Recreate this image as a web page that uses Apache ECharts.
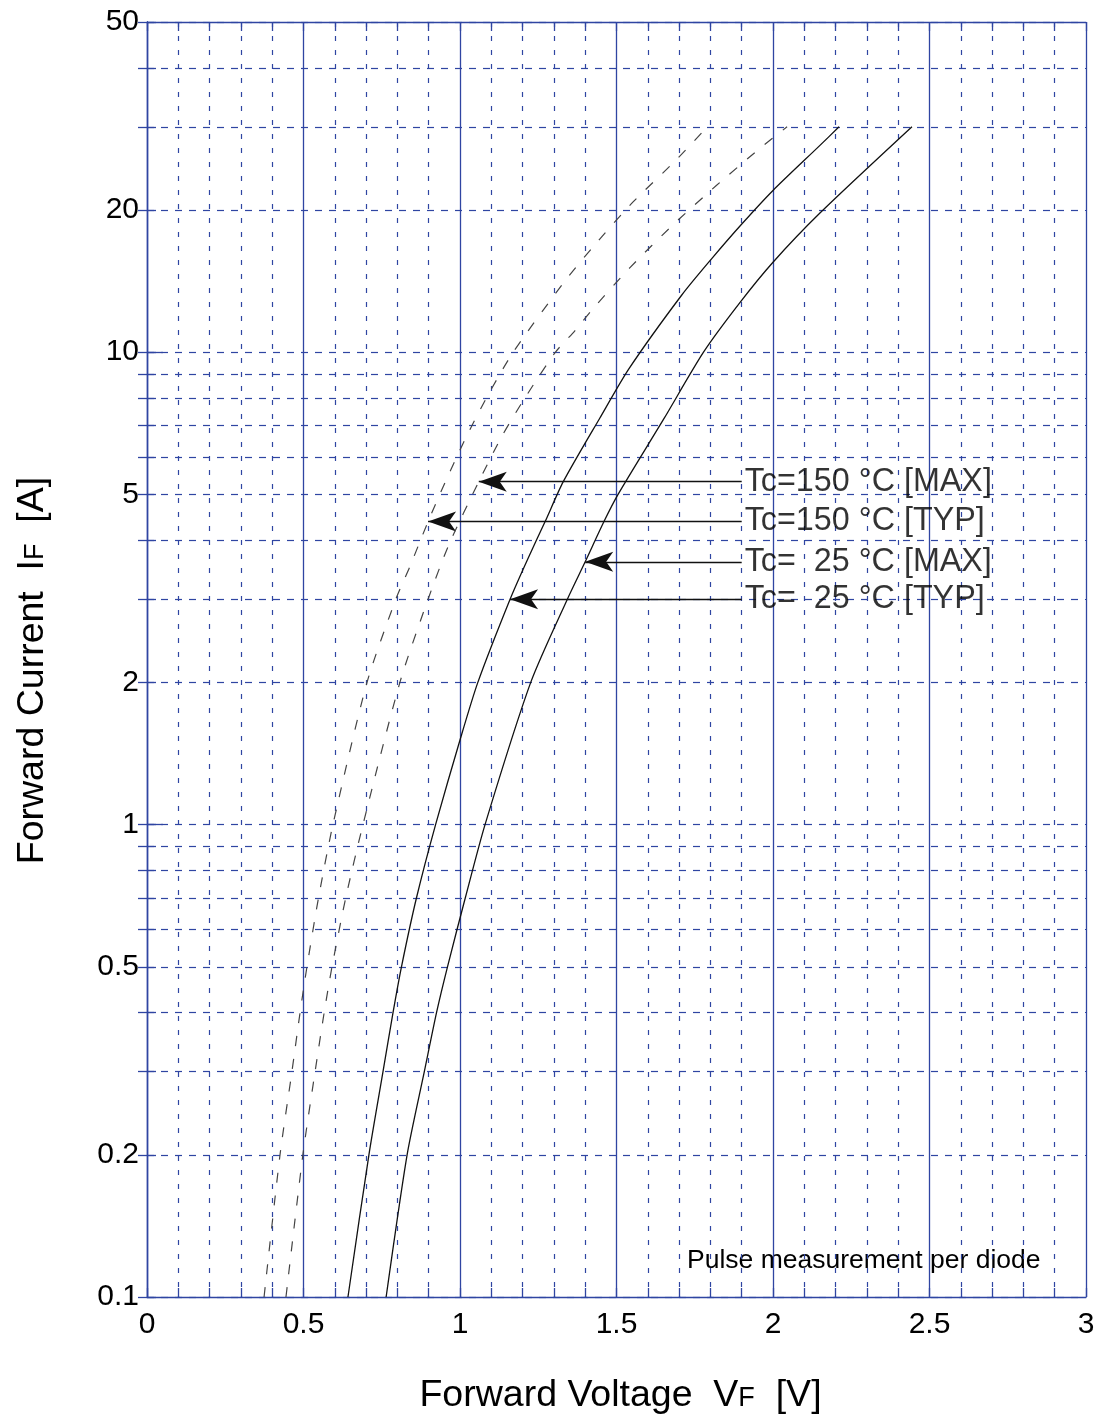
<!DOCTYPE html>
<html>
<head>
<meta charset="utf-8">
<script src="https://cdn.jsdelivr.net/npm/echarts@6/dist/echarts.min.js"></script>
<style>
html,body{margin:0;padding:0;background:#fff;}
#chart{width:1104px;height:1428px;}
</style>
</head>
<body>
<div id="chart"></div>
<script>
// ---- Data: [Forward voltage V, Forward current A] ----
const tc150Typ = [[0.374,0.1],[0.425,0.2],[0.463,0.3],[0.489,0.4],[0.511,0.5],[0.548,0.7],[0.594,1.0],[0.703,2.0],[0.795,3.0],[0.840,3.52],[0.898,4.38],[0.955,5.35],[1.019,6.6],[1.089,8.1],[1.17,10],[1.33,14.0],[1.428,16.8],[1.553,20.8],[1.690,25.5],[1.79,30]];
const tc150Max = [[0.444,0.1],[0.498,0.2],[0.537,0.3],[0.566,0.4],[0.591,0.5],[0.635,0.7],[0.690,1.0],[0.808,2.0],[0.898,3.0],[0.965,3.92],[1.06,5.32],[1.135,6.66],[1.21,8.05],[1.305,10],[1.367,11.1],[1.422,12.3],[1.543,15.1],[1.684,18.7],[1.818,22.5],[1.955,26.9],[2.045,30]];
const tc25Typ = [[0.642,0.1],[0.709,0.2],[0.754,0.3],[0.786,0.4],[0.813,0.5],[0.861,0.7],[0.922,1.0],[1.0,1.51],[1.057,2.0],[1.160,3.0],[1.214,3.62],[1.272,4.38],[1.33,5.32],[1.446,7.24],[1.540,9.23],[1.708,13.2],[1.805,15.8],[1.901,18.7],[2.0,22.0],[2.15,27.4],[2.211,30]];
const tc25Max = [[0.764,0.1],[0.831,0.2],[0.886,0.3],[0.925,0.4],[0.960,0.5],[1.017,0.7],[1.080,1.0],[1.226,2.0],[1.343,3.0],[1.40,3.6],[1.46,4.38],[1.505,5.0],[1.652,7.24],[1.778,10],[1.893,12.7],[2.0,15.5],[2.15,19.7],[2.444,30]];

// ---- Annotations ----
const annotLabels = ['Tc=150 °C [MAX]', 'Tc=150 °C [TYP]', 'Tc=  25 °C [MAX]', 'Tc=  25 °C [TYP]'];
const annotCurrent = [5.32, 4.38, 3.6, 3.0];
const annotTipV = [1.06, 0.898, 1.40, 1.160];
const annotTailV = 1.90;

// ---- Axis ticks ----
const yGridValues = [0.1,0.2,0.3,0.4,0.5,0.6,0.7,0.8,0.9,1,2,3,4,5,6,7,8,9,10,20,30,40,50];
const yLabelValues = [0.1,0.2,0.5,1,2,5,10,20,50];
const yMajorValues = [1,10];
const xMin = 0, xMax = 3, xStep = 0.5;
const yMin = 0.1, yMax = 50;

const FONT = '"Liberation Sans", Arial, sans-serif';
const BLUE = '#2f45a2';

const chart = echarts.init(document.getElementById('chart'), null, {renderer: 'canvas'});

function arrowLine(i) {
  return [
    {coord: [annotTailV, annotCurrent[i]], symbol: 'none'},
    {coord: [annotTipV[i], annotCurrent[i]], symbol: 'arrow'}
  ];
}
function markLineFor(i) {
  return {
    silent: true,
    symbolSize: [15, 28],
    label: {show: false},
    lineStyle: {color: '#111', width: 1.4, type: 'solid'},
    emphasis: {disabled: true},
    data: [arrowLine(i)]
  };
}
const curveBase = {
  type: 'line', showSymbol: false, symbol: 'none', smooth: 0.25,
  xAxisIndex: 0, yAxisIndex: 0, silent: true, z: 5
};

const option = {
  animation: false,
  backgroundColor: '#fff',
  grid: {left: 147, right: 18, top: 22, bottom: 131, containLabel: false},
  xAxis: [
    {
      type: 'value', min: xMin, max: xMax, interval: xStep, position: 'bottom',
      name: 'Forward Voltage  V{s|F}  [V]', nameLocation: 'middle', nameGap: 80,
      nameTextStyle: {fontSize: 37.5, color: '#000', fontFamily: FONT, padding: [0, 0, 0, 8],
        rich: {s: {fontSize: 27, color: '#000', fontFamily: FONT, verticalAlign: 'bottom', padding: [0,0,3,0]}}},
      axisLine: {show: true, lineStyle: {color: BLUE, width: 1.3}},
      axisTick: {show: true, inside: true, length: 9, lineStyle: {color: BLUE, width: 1.3}},
      minorTick: {show: true, splitNumber: 5, length: 9, lineStyle: {color: BLUE, width: 1.3}},
      axisLabel: {fontSize: 30, color: '#000', fontFamily: FONT, margin: 13,
        formatter: v => String(+v.toFixed(2))},
      splitLine: {show: true, lineStyle: {color: BLUE, width: 1.3, type: 'solid'}},
      minorSplitLine: {show: true, lineStyle: {color: BLUE, width: 1.2, type: [5, 9]}}
    },
    {
      type: 'value', min: xMin, max: xMax, interval: xStep, position: 'top',
      axisLine: {show: true, lineStyle: {color: BLUE, width: 1.3}},
      axisTick: {show: true, inside: true, length: 9, lineStyle: {color: BLUE, width: 1.3}},
      minorTick: {show: true, splitNumber: 5, length: 9, lineStyle: {color: BLUE, width: 1.3}},
      axisLabel: {show: false},
      splitLine: {show: false}
    }
  ],
  yAxis: [
    {
      type: 'log', logBase: 10, min: yMin, max: yMax, position: 'left',
      name: 'Forward Current  I{s|F}  [A]', nameLocation: 'middle', nameGap: 95,
      nameTextStyle: {fontSize: 37.5, color: '#000', fontFamily: FONT, padding: [0, 22, 0, 0],
        rich: {s: {fontSize: 27, color: '#000', fontFamily: FONT, verticalAlign: 'bottom', padding: [0,0,3,0]}}},
      axisLine: {show: true, lineStyle: {color: BLUE, width: 1.3}},
      axisTick: {show: true, inside: true, length: 9, customValues: yGridValues, lineStyle: {color: BLUE, width: 1.3}},
      axisLabel: {show: true, customValues: yLabelValues, fontSize: 30, color: '#000', fontFamily: FONT, margin: 8,
        formatter: v => String(+(+v).toPrecision(3))},
      splitLine: {show: true, lineStyle: {color: BLUE, width: 1.2, type: [7, 7]}}
    },
    {
      type: 'log', logBase: 10, min: yMin, max: yMax, position: 'right',
      axisLine: {show: true, lineStyle: {color: BLUE, width: 1.3}},
      axisTick: {show: true, inside: true, length: 9, customValues: yGridValues, lineStyle: {color: BLUE, width: 1.3}},
      axisLabel: {show: false},
      splitLine: {show: false}
    },
    {
      type: 'log', logBase: 10, min: yMin, max: yMax, position: 'left', offset: 0,
      axisLine: {show: false},
      axisTick: {show: true, inside: true, length: 16, customValues: yMajorValues, lineStyle: {color: BLUE, width: 1.3}},
      axisLabel: {show: false},
      splitLine: {show: false}
    }
  ],
  graphic: [
    {type: 'text', left: 687, top: 1247, silent: true,
      style: {text: 'Pulse measurement per diode', fontSize: 26.5, fontFamily: FONT, fill: '#000'}}
  ],
  series: [
    Object.assign({}, curveBase, {
      name: 'Tc=150 °C [TYP]', data: tc150Typ,
      lineStyle: {color: '#444', width: 1.2, type: [10, 13]},
      markLine: markLineFor(1)
    }),
    Object.assign({}, curveBase, {
      name: 'Tc=150 °C [MAX]', data: tc150Max,
      lineStyle: {color: '#444', width: 1.2, type: [10, 13]},
      markLine: markLineFor(0)
    }),
    Object.assign({}, curveBase, {
      name: 'Tc=25 °C [TYP]', data: tc25Typ,
      lineStyle: {color: '#111', width: 1.3, type: 'solid'},
      markLine: markLineFor(3)
    }),
    Object.assign({}, curveBase, {
      name: 'Tc=25 °C [MAX]', data: tc25Max,
      lineStyle: {color: '#111', width: 1.3, type: 'solid'},
      markLine: markLineFor(2)
    }),
    {
      type: 'scatter', name: 'labels', silent: true, symbolSize: 0, z: 6,
      data: annotLabels.map((t, i) => ({value: [annotTailV, annotCurrent[i]], label: {formatter: t}})),
      label: {show: true, position: 'right', distance: 3, fontSize: 32.3, color: '#000', fontFamily: FONT}
    }
  ]
};
chart.setOption(option);
</script>
</body>
</html>
